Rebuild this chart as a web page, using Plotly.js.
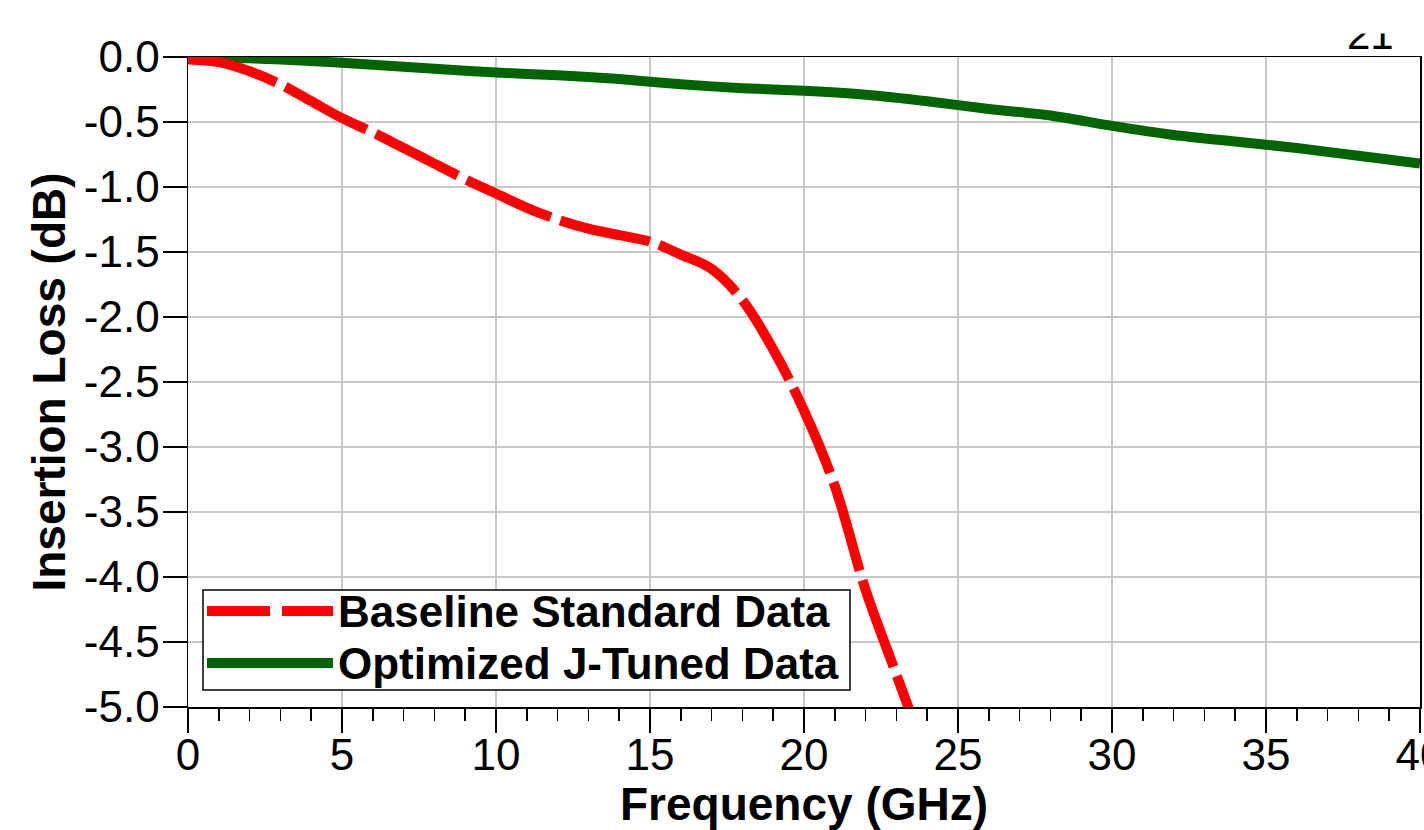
<!DOCTYPE html>
<html>
<head>
<meta charset="utf-8">
<script src="https://cdn.plot.ly/plotly-3.0.1.min.js"></script>
<style>
html,body{margin:0;padding:0;background:#fff;}
#chart{width:1424px;height:830px;}
</style>
</head>
<body>
<div id="chart"></div>
<script>
// ---- data ----
var baselineFreq = [0,1,2,3,4,5,6,7,8,9,10,11,12,13,14,15,16,17,18,19,20,21,22,23,24];
var baselineLoss = [-0.02,-0.04,-0.11,-0.21,-0.34,-0.47,-0.58,-0.70,-0.82,-0.94,-1.05,-1.16,-1.25,-1.32,-1.37,-1.42,-1.52,-1.63,-1.87,-2.25,-2.72,-3.30,-4.10,-4.75,-5.40];

var optimizedFreq = [0,2,4,6,8,10,12,14,16,18,20,22,24,26,28,30,32,34,36,38,40];
var optimizedLoss = [0,-0.01,-0.03,-0.06,-0.09,-0.12,-0.14,-0.17,-0.21,-0.24,-0.26,-0.29,-0.34,-0.40,-0.45,-0.53,-0.60,-0.65,-0.70,-0.76,-0.82];

var seriesNames = ['Baseline Standard Data', 'Optimized J-Tuned Data'];
var xTickVals = [0,5,10,15,20,25,30,35,40];
var xTickText = ['0','5','10','15','20','25','30','35','40'];
var yTickVals = [0,-0.5,-1,-1.5,-2,-2.5,-3,-3.5,-4,-4.5,-5];
var yTickText = ['0.0','-0.5','-1.0','-1.5','-2.0','-2.5','-3.0','-3.5','-4.0','-4.5','-5.0'];

var FONT = 'Liberation Sans, Arial, Helvetica, sans-serif';
var RED = '#ff0000';
var GREEN = '#006400';

var traces = [
  {x: optimizedFreq, y: optimizedLoss, name: seriesNames[1], mode: 'lines',
   line: {color: GREEN, width: 10, shape: 'spline', smoothing: 0.8}, showlegend: false},
  {x: baselineFreq, y: baselineLoss, name: seriesNames[0], mode: 'lines',
   line: {color: RED, width: 10, dash: '92px,10px', shape: 'spline'}, showlegend: false}
];

// legend geometry in pixels -> paper coordinates
var L = 188, R = 1420, T = 57, B = 707;
function px(v){ return (v - L) / (R - L); }
function py(v){ return (B - v) / (B - T); }

var layout = {
  width: 1424, height: 830,
  margin: {l: L, r: 1424 - R, t: T, b: 830 - B, pad: 0},
  paper_bgcolor: '#ffffff', plot_bgcolor: '#ffffff',
  font: {family: FONT, color: '#000000', size: 44},
  showlegend: false,
  xaxis: {
    range: [0, 40], tickmode: 'array', tickvals: xTickVals, ticktext: xTickText,
    ticks: 'outside', ticklen: 24, tickwidth: 1.5, tickcolor: '#000',
    ticklabelstandoff: -15, ticklabeloverflow: 'allow',
    showline: true, linecolor: '#000', linewidth: 1.5, mirror: true,
    showgrid: true, gridcolor: '#c8c8c8', gridwidth: 1.5, zeroline: false,
    tickfont: {family: FONT, size: 44, color: '#000'},
    minor: {dtick: 1, ticks: 'outside', ticklen: 12, tickwidth: 1.5, tickcolor: '#000', showgrid: false},
    title: {text: 'Frequency (GHz)', font: {family: FONT, size: 46, weight: 'bold', color: '#000'}, standoff: 0}
  },
  yaxis: {
    range: [-5, 0], tickmode: 'array', tickvals: yTickVals, ticktext: yTickText,
    ticks: 'outside', ticklen: 24, tickwidth: 1.5, tickcolor: '#000',
    ticklabelstandoff: -6,
    showline: true, linecolor: '#000', linewidth: 1.5, mirror: true,
    showgrid: true, gridcolor: '#c8c8c8', gridwidth: 1.5, zeroline: false,
    tickfont: {family: FONT, size: 44, color: '#000'},
    title: {text: 'Insertion Loss (dB)', font: {family: FONT, size: 46, weight: 'bold', color: '#000'}, standoff: 4}
  },
  shapes: [
    {type: 'rect', xref: 'paper', yref: 'paper', x0: px(203), x1: px(850), y0: py(690), y1: py(590),
     fillcolor: '#ffffff', line: {color: '#000', width: 1.5}, layer: 'above'},
    {type: 'line', xref: 'paper', yref: 'paper', x0: px(207), x1: px(333), y0: py(611), y1: py(611),
     line: {color: RED, width: 10, dash: '63px,12px'}, layer: 'above'},
    {type: 'line', xref: 'paper', yref: 'paper', x0: px(207), x1: px(333), y0: py(663), y1: py(663),
     line: {color: GREEN, width: 10}, layer: 'above'}
  ],
  annotations: [
    {xref: 'paper', yref: 'paper', x: px(336), y: py(611), xanchor: 'left', yanchor: 'middle',
     text: seriesNames[0], showarrow: false, font: {family: FONT, size: 44, weight: 'bold', color: '#000'}},
    {xref: 'paper', yref: 'paper', x: px(336), y: py(663), xanchor: 'left', yanchor: 'middle',
     text: seriesNames[1], showarrow: false, font: {family: FONT, size: 44, weight: 'bold', color: '#000'}},
    {xref: 'paper', yref: 'paper', x: px(1370), y: py(35), xanchor: 'center', yanchor: 'middle',
     text: '21', showarrow: false, font: {family: FONT, size: 42, color: '#000'}},
    {xref: 'paper', yref: 'paper', x: px(1370), y: py(16.5), xanchor: 'center', yanchor: 'middle',
     text: ' ', showarrow: false, width: 90, height: 33, bgcolor: '#ffffff', borderpad: 0}
  ]
};

Plotly.newPlot('chart', traces, layout, {displayModeBar: false, staticPlot: true});
</script>
</body>
</html>
